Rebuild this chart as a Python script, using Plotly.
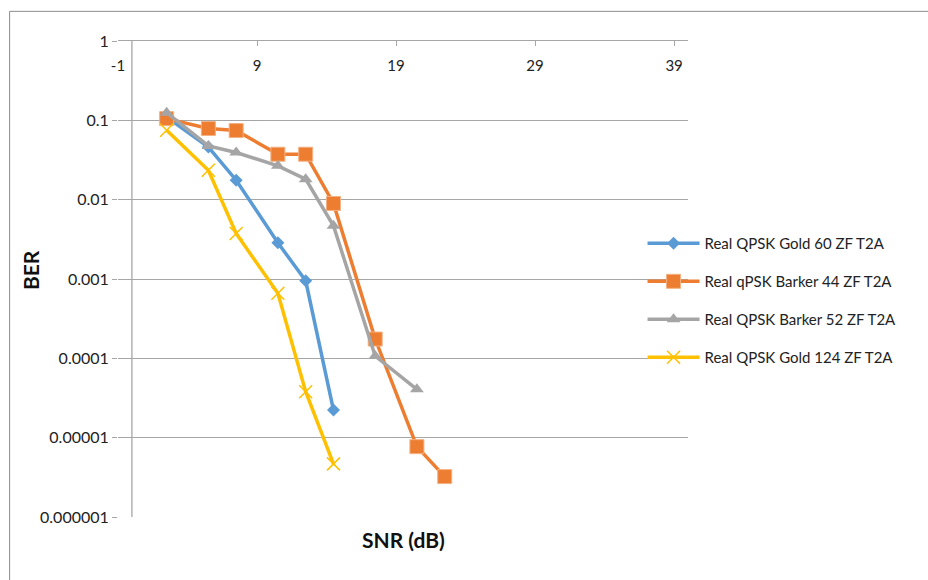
import plotly.graph_objects as go

# ---- data ----
snr_a = [2.5, 5.5, 7.5, 10.5, 12.5, 14.5]
snr_b = [2.5, 5.5, 7.5, 10.5, 12.5, 14.5, 17.5, 20.5, 22.5]
snr_c = [2.5, 5.5, 7.5, 10.5, 12.5, 14.5, 17.5, 20.5]
snr_d = [2.5, 5.5, 7.5, 10.5, 12.5, 14.5]

ber_gold60 = [0.11, 0.046, 0.0176, 0.00286, 0.00095, 0.0000223]
ber_barker44 = [0.105, 0.0788, 0.0744, 0.0374, 0.0374, 0.00896, 0.000175, 0.0000077, 0.00000323]
ber_barker52 = [0.125, 0.0476, 0.0393, 0.0267, 0.0181, 0.00468, 0.000107, 0.0000407]
ber_gold124 = [0.075, 0.0235, 0.00375, 0.00066, 0.000038, 0.00000467]

names = ["Real QPSK Gold 60 ZF T2A", "Real qPSK Barker 44 ZF T2A",
         "Real QPSK Barker 52 ZF T2A", "Real QPSK Gold 124 ZF T2A"]
colors = ["#5B9BD5", "#ED7D31", "#A5A5A5", "#FFC000"]

y_tickvals = [1, 0.1, 0.01, 0.001, 0.0001, 0.00001, 0.000001]
y_ticktext = ["1", "0.1", "0.01", "0.001", "0.0001", "0.00001", "0.000001"]
x_tickvals = [-1, 9, 19, 29, 39]
x_ticktext = ["-1", "9", "19", "29", "39"]

FONT = "Lato, 'Open Sans', sans-serif"
GRID = "#A6A6A6"

fig = go.Figure()
series = [
    (snr_a, ber_gold60, dict(symbol="diamond", size=10, color=colors[0])),
    (snr_b, ber_barker44, dict(symbol="square", size=14, color=colors[1],
                                line=dict(color="#F4B183", width=1))),
    (snr_c, ber_barker52, dict(symbol="triangle-up", size=12, color=colors[2])),
    (snr_d, ber_gold124, dict(symbol="x-thin", size=13, color=colors[3],
                               line=dict(color=colors[3], width=1.5))),
]
for i, (xs, ys, mk) in enumerate(series):
    fig.add_trace(go.Scatter(
        x=xs, y=ys, mode="lines+markers", name=names[i],
        line=dict(color=colors[i], width=3.5),
        marker=mk, legendgroup=str(i),
    ))

W, H = 928, 580
L, R, T, B = 118, 688.5, 40.7, 517.3
pw, ph = R - L, B - T

def px_x(p):
    return (p - L) / pw

def px_y(p):
    return (B - p) / ph

fig.update_layout(
    width=W, height=H,
    margin=dict(l=L, r=W - R, t=T, b=H - B, pad=0),
    paper_bgcolor="white", plot_bgcolor="white",
    font=dict(family=FONT, size=15, color="#222222"),
    xaxis=dict(
        range=[-1, 40], side="top", tickvals=x_tickvals, showticklabels=False,
        ticks="inside", ticklen=5, tickcolor=GRID, showline=True,
        linecolor=GRID, linewidth=1.3, showgrid=False, zeroline=False,
    ),
    xaxis2=dict(
        range=[-1, 40], overlaying="x", anchor="free", position=px_y(55),
        side="bottom", tickvals=x_tickvals, ticktext=x_ticktext, ticks="",
        showline=False, showgrid=False, zeroline=False,
        tickfont=dict(size=15, color="#222222"),
    ),
    yaxis=dict(
        type="log", range=[-6, 0], tickvals=y_tickvals, ticktext=y_ticktext,
        ticks="outside", ticklen=5, tickcolor=GRID, showgrid=True,
        gridcolor=GRID, gridwidth=1.3, showline=False, zeroline=False,
        tickfont=dict(size=16, color="#222222"),
    ),
    legend=dict(
        x=px_x(643), y=px_y(227), xanchor="left", yanchor="top",
        bgcolor="rgba(0,0,0,0)", font=dict(size=15, color="#222222"),
        tracegroupgap=15.5, itemwidth=52,
    ),
    showlegend=True,
    shapes=[
        dict(type="line", xref="x", yref="paper", x0=0, x1=0, y0=0, y1=1,
             line=dict(color=GRID, width=1.3), layer="below"),
        dict(type="rect", xref="paper", yref="paper",
             x0=px_x(9.5), x1=px_x(960), y0=px_y(11), y1=px_y(620),
             line=dict(color="#8C8C8C", width=1)),
    ],
    annotations=[
        dict(text="<b>BER</b>", xref="paper", yref="paper", x=px_x(30), y=px_y(270),
             xanchor="center", yanchor="middle",
             textangle=-90, showarrow=False, font=dict(size=21, color="#111111")),
        dict(text="<b>SNR (dB)</b>", xref="paper", yref="paper", x=px_x(404), y=px_y(540),
             xanchor="center", yanchor="middle",
             showarrow=False, font=dict(size=21, color="#111111")),
    ],
)
# invisible trace so the label axis (xaxis2) is drawn
fig.add_trace(go.Scatter(x=[None], y=[None], xaxis="x2", showlegend=False, hoverinfo="skip"))

fig.write_html("out.html")
